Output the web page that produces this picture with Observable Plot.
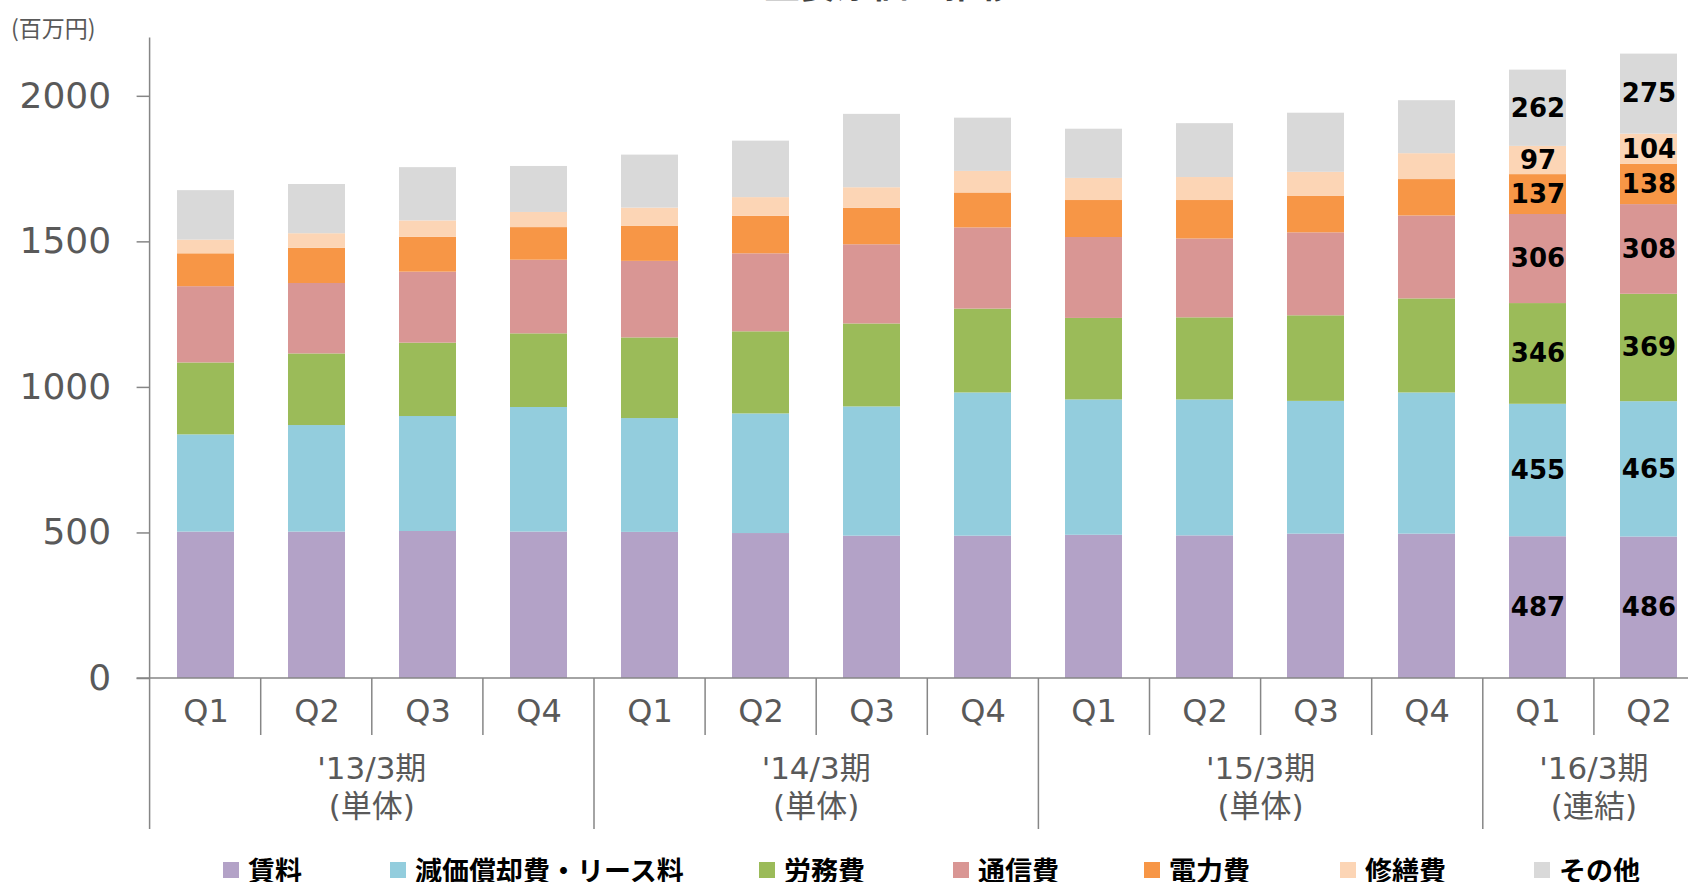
<!DOCTYPE html>
<html><head><meta charset="utf-8">
<script src="https://cdn.jsdelivr.net/npm/d3@7"></script>
<script src="https://cdn.jsdelivr.net/npm/@observablehq/plot@0.6"></script>
<style>
body{margin:0;background:#fff;}
#wrap{position:relative;width:1688px;height:882px;overflow:hidden;}
#title{position:absolute;top:-36px;left:0;width:1780px;text-align:center;font:bold 36px "Noto Sans CJK JP",sans-serif;line-height:36px;color:#404040;}
#unit{position:absolute;left:11px;top:15px;font:23px "Noto Sans CJK JP",sans-serif;line-height:24px;color:#595959;}
#chart{position:absolute;left:0;top:0;}
#legend{position:absolute;top:855px;left:0;width:1688px;height:40px;}
.item{position:absolute;top:0;display:flex;align-items:center;font:bold 27px "Noto Sans CJK JP",sans-serif;line-height:30px;color:#000;white-space:nowrap;}
.sw{width:16px;height:16px;margin-right:9px;flex:none;}
</style>
</head><body>
<div id="wrap">
  <div id="chart"></div>
  <div id="title"></div>
  <div id="unit"></div>
  <div id="legend"></div>
</div>
<script>
// ---------- data ----------
const chartTitle = "主要原価の推移";
const unitLabel = "(百万円)";
const quarters = ["Q1","Q2","Q3","Q4","Q1","Q2","Q3","Q4","Q1","Q2","Q3","Q4","Q1","Q2"];
const fiscalYear = ["'13/3期","'13/3期","'13/3期","'13/3期","'14/3期","'14/3期","'14/3期","'14/3期","'15/3期","'15/3期","'15/3期","'15/3期","'16/3期","'16/3期"];
const periods = ["'13/3期","'14/3期","'15/3期","'16/3期"];
const periodNotes = ["(単体)","(単体)","(単体)","(連結)"];
const seriesNames = ["賃料","減価償却費・リース料","労務費","通信費","電力費","修繕費","その他"];
const rent        = [503,503,505,503,502,498,489,489,492,490,496,496,487,486];
const depLease    = [334,366,395,428,391,411,444,492,465,467,456,485,455,465];
const labor       = [247,246,252,253,277,282,285,288,280,282,294,323,346,369];
const telecom     = [262,242,244,253,263,268,272,279,278,271,285,285,306,308];
const power       = [113,121,120,112,121,129,125,120,127,132,125,125,137,138];
const repair      = [47,50,56,52,62,64,71,74,76,79,83,89,97,104];
const other       = [170,169,183,158,182,194,252,183,169,185,203,182,262,275];
const yTicks = [0,500,1000,1500,2000];
const labeledPeriod = "'16/3期";

// ---------- style ----------
const seriesColors = ["#B3A2C7","#93CDDD","#9BBB59","#D99694","#F79646","#FCD5B5","#D9D9D9"];
const axisGray = "#868686", textGray = "#595959";
const legendX = [223, 390, 759, 953, 1144, 1340, 1534];

// ---------- build ----------
const seriesValues = [rent, depLease, labor, telecom, power, repair, other];
const keys = quarters.map((q, i) => fiscalYear[i] + " " + q);
const rows = seriesNames.flatMap((s, si) => keys.map((k, i) => ({
  key: k, quarter: quarters[i], period: fiscalYear[i], series: s, value: seriesValues[si][i]
})));

const left = 149.6, step = 111.1;
const plot = Plot.plot({
  width: 1688, height: 845,
  marginTop: 37.6, marginBottom: 167, marginLeft: left, marginRight: 0,
  style: {fontFamily: '"DejaVu Sans","Noto Sans CJK JP",sans-serif', background: "white", overflow: "visible"},
  x: {domain: keys, range: [left, left + step * keys.length], paddingInner: 0.49, paddingOuter: 0.245, axis: null, label: null},
  y: {domain: [0, 2200], axis: null, label: null},
  color: {domain: seriesNames, range: seriesColors},
  marks: [
    Plot.barY(rows, Plot.stackY({x: "key", y: "value", fill: "series"})),
    Plot.text(rows.filter(d => d.period === labeledPeriod),
      Plot.stackY({x: "key", y: "value", z: "series", text: d => String(d.value),
        fill: "black", fontSize: 26, fontWeight: "bold"})),
    Plot.axisY({ticks: yTicks, tickSize: 13, tickPadding: 26, fontSize: 36, label: null,
      stroke: axisGray, strokeWidth: 1.5, fill: textGray, tickFormat: d => String(d)}),
    Plot.axisX({tickSize: 0, tickPadding: 21, fontSize: 32, fill: textGray, label: null,
      tickFormat: k => k.split(" ")[1]})
  ]
});
document.getElementById("chart").append(plot);

// multi-level category axis, drawn from Plot's scales
const xs = plot.scale("x"), ys = plot.scale("y");
const [r0, r1] = xs.range;
const st = (r1 - r0) / keys.length;
const y0 = ys.apply(0), yTop = ys.apply(2200);
const svg = d3.select(plot);
const g = svg.append("g").attr("stroke", axisGray).attr("stroke-width", 1.5);
g.append("line").attr("x1", r0).attr("x2", r0).attr("y1", yTop).attr("y2", y0 + 151);
g.append("line").attr("x1", r0 - 13).attr("x2", r1).attr("y1", y0).attr("y2", y0);
const groupStarts = periods.map(p => fiscalYear.indexOf(p));
for (let i = 1; i <= keys.length; i++) {
  const x = r0 + i * st;
  const isGroup = groupStarts.includes(i);
  g.append("line").attr("x1", x).attr("x2", x).attr("y1", y0).attr("y2", y0 + (isGroup ? 151 : 57));
}
const tg = svg.append("g").attr("fill", textGray).attr("font-size", 31).attr("text-anchor", "middle")
  .attr("font-family", '"DejaVu Sans","Noto Sans CJK JP",sans-serif');
periods.forEach((p, pi) => {
  const idx = fiscalYear.map((f, i) => f === p ? i : -1).filter(i => i >= 0);
  const cx = r0 + st * (idx[0] + idx[idx.length - 1] + 1) / 2;
  tg.append("text").attr("x", cx).attr("y", y0 + 89.5).attr("dominant-baseline", "central").text(p);
  tg.append("text").attr("x", cx).attr("y", y0 + 128).attr("dominant-baseline", "central").text(periodNotes[pi]);
});

// title, unit, legend
document.getElementById("title").textContent = chartTitle;
document.getElementById("unit").textContent = unitLabel;
const legend = document.getElementById("legend");
seriesNames.forEach((s, i) => {
  const it = document.createElement("div");
  it.className = "item";
  it.style.left = legendX[i] + "px";
  const sw = document.createElement("span");
  sw.className = "sw";
  sw.style.background = seriesColors[i];
  const tx = document.createElement("span");
  tx.textContent = s;
  it.append(sw, tx);
  legend.append(it);
});
</script>
</body></html>
